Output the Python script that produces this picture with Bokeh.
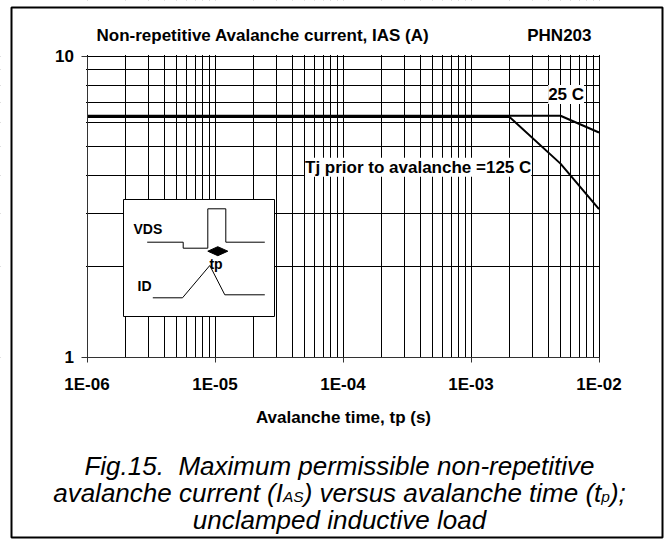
from bokeh.plotting import figure
from bokeh.models import (Range1d, LinearScale, FixedTicker, CustomJSTickFormatter,
                          Label, BoxAnnotation)
from bokeh.embed import file_html
from bokeh.resources import INLINE

# ---------------- data ----------------
tp_125 = [1e-6, 2e-3, 5e-3, 1e-2]
ias_125 = [6.27, 6.27, 4.39, 3.10]
tp_25 = [1e-6, 5e-3, 1e-2]
ias_25 = [6.33, 6.33, 5.57]

x_major = [1e-6, 1e-5, 1e-4, 1e-3, 1e-2]
x_minor = [m * d for d in [1e-6, 1e-5, 1e-4, 1e-3] for m in range(2, 10)]
y_major = [1, 10]
y_minor = [2, 3, 4, 5, 6, 7, 8, 9]

title_text = "Non-repetitive Avalanche current, IAS (A)"
part_text = "PHN203"
x_label = "Avalanche time, tp (s)"
label_125 = "Tj prior to avalanche =125 C"
label_125_pos = (5.05e-5, 4.27)
label_25 = "25 C"
label_25_pos = (7.64e-3, 7.45)

# inset schematic, in canvas pixels (x right, y down)
inset_box = dict(left=[123], right=[274], top=[199], bottom=[316])
vds_x = [146.7, 182.7, 182.7, 207.3, 207.3, 225.3, 225.3, 264.3]
vds_y = [241.7, 241.7, 247.7, 247.7, 208.3, 208.3, 241.7, 241.7]
id_x = [152.3, 182, 209.3, 224.3, 264.3]
id_y = [297.3, 297.3, 265, 294.3, 294.3]
diamond_x = [207.3, 217.3, 227.3, 217.3]
diamond_y = [250.7, 246.2, 250.7, 255.2]
inset_texts = [("VDS", 133, 228.3, "left"), ("ID", 137, 285, "left"), ("tp", 215.5, 263.5, "center")]

caption_1 = "Fig.15.\u00a0 Maximum permissible non-repetitive"
caption_2 = ["avalanche current (I", "AS", ") versus avalanche time (t", "p", ");"]
caption_3 = "unclamped inductive load"

FONT = "Liberation Sans"

# ---------------- layout constants (canvas pixels) ----------------
W, H = 667, 540
PX0, PX1 = 86.5, 598.5      # x = 1E-06 .. 1E-02
PY0, PY1 = 55.5, 356.5      # y = 10 .. 1
DEC_X = (PX1 - PX0) / (len(x_major) - 1)
DEC_Y = (PY1 - PY0) / (len(y_major) - 1)
x_start = x_major[0] * 10 ** (-PX0 / DEC_X)
x_end = x_major[-1] * 10 ** ((W - PX1) / DEC_X)
y_start = y_major[0] * 10 ** (-(H - PY1) / DEC_Y)
y_end = y_major[-1] * 10 ** (PY0 / DEC_Y)


def sy(y):
    return H - y


p = figure(width=W, height=H, x_axis_type="log", y_axis_type="log",
           x_range=Range1d(x_start, x_end), y_range=Range1d(y_start, y_end),
           output_backend="svg", toolbar_location=None, tools="", title=None,
           min_border_left=0, min_border_right=0, min_border_top=0, min_border_bottom=0)
p.background_fill_color = "white"
p.border_fill_color = "white"
p.outline_line_color = None

xt = FixedTicker(ticks=x_major, minor_ticks=x_minor)
yt = FixedTicker(ticks=y_major, minor_ticks=y_minor)
p.xaxis.ticker = xt
p.yaxis.ticker = yt
p.xgrid.ticker = xt
p.ygrid.ticker = yt
for g in (p.xgrid, p.ygrid):
    g.grid_line_color = "black"
    g.grid_line_width = 1
    g.grid_line_alpha = 1
    g.minor_grid_line_color = "black"
    g.minor_grid_line_width = 1

p.xaxis.fixed_location = y_major[0]
p.yaxis.fixed_location = x_major[0]
p.xaxis.bounds = (x_major[0], x_major[-1])
p.yaxis.bounds = (y_major[0], y_major[-1])

p.xaxis.formatter = CustomJSTickFormatter(code="""
const e = Math.round(Math.log10(tick));
const s = e < 0 ? "-" : "+";
return "1E" + s + String(Math.abs(e)).padStart(2, "0");
""")
p.yaxis.formatter = CustomJSTickFormatter(code="return tick.toFixed(0);")

for ax in (p.xaxis[0], p.yaxis[0]):
    ax.axis_line_color = "#333333"
    ax.major_tick_line_color = "#333333"
    ax.major_tick_in = 0
    ax.minor_tick_line_color = None
    ax.major_label_text_font = FONT
    ax.major_label_text_font_style = "bold"
    ax.major_label_text_font_size = "17px"
    ax.major_label_text_color = "black"
p.xaxis.major_tick_out = 5
p.yaxis.major_tick_out = 6
p.xaxis.major_label_standoff = 13
p.yaxis.major_label_standoff = 7
p.xaxis.axis_label = x_label
p.xaxis.axis_label_text_font = FONT
p.xaxis.axis_label_text_font_style = "bold"
p.xaxis.axis_label_text_font_size = "17px"
p.xaxis.axis_label_text_color = "black"
p.xaxis.axis_label_standoff = 10

# pixel-space ranges for the schematic and the white masks around the chart area
p.extra_x_ranges = {"px": Range1d(0, W)}
p.extra_y_ranges = {"px": Range1d(H, 0)}
p.extra_x_scales = {"px": LinearScale()}
p.extra_y_scales = {"px": LinearScale()}
pxr = dict(x_range_name="px", y_range_name="px")

M = 20
p.quad(left=[-M, -M, -M, PX1 + 1], right=[W + M, W + M, PX0 - 1, W + M],
       top=[-M, PY1 + 1, -M, -M], bottom=[PY0 - 1, H + M, H + M, H + M],
       fill_color="white", line_color=None, **pxr)

# curves
p.line(tp_25, ias_25, line_color="black", line_width=2)
p.line(tp_125, ias_125, line_color="black", line_width=2)

# curve labels
bold = dict(text_font=FONT, text_font_style="bold", text_font_size="17px", text_color="black",
            background_fill_color="white", text_baseline="middle")
p.add_layout(Label(x=label_125_pos[0], y=label_125_pos[1], text=label_125, text_align="left", **bold))
p.add_layout(Label(x=label_25_pos[0], y=label_25_pos[1], text=label_25, text_align="right", **bold))

# inset
p.quad(fill_color="white", line_color="black", line_width=1, **inset_box, **pxr)
p.line(vds_x, vds_y, line_color="black", line_width=1, **pxr)
p.line(id_x, id_y, line_color="black", line_width=1, **pxr)
p.patch(diamond_x, diamond_y, fill_color="black", line_color="black", line_width=1, **pxr)
for t, x, y, al in inset_texts:
    p.add_layout(Label(x=x, y=sy(y), x_units="screen", y_units="screen", text=t,
                       text_font=FONT, text_font_style="bold", text_font_size="14px",
                       text_align=al, text_baseline="middle", text_color="black"))

# title texts
p.add_layout(Label(x=96, y=sy(35), x_units="screen", y_units="screen", text=title_text,
                   text_font=FONT, text_font_style="bold", text_font_size="17px",
                   text_align="left", text_baseline="middle", text_color="black"))
p.add_layout(Label(x=591, y=sy(35), x_units="screen", y_units="screen", text=part_text,
                   text_font=FONT, text_font_style="bold", text_font_size="17px",
                   text_align="right", text_baseline="middle", text_color="black"))

# caption
CF, CS = 26, 15.5
CX = 339
BASE = [465, 492, 519]
ADV = {' ': 278, 'a': 556, 'v': 500, 'l': 222, 'n': 556, 'c': 500, 'h': 556, 'e': 556,
       'u': 556, 'r': 333, 't': 278, '(': 333, ')': 333, 'I': 278, 'A': 667, 'S': 667,
       's': 500, 'i': 222, 'm': 833, 'p': 556, ';': 278}


def tw(s, size):
    return sum(ADV[c] for c in s) / 1000.0 * size


cap = dict(x_units="screen", y_units="screen", text_font=FONT, text_font_style="italic",
           text_baseline="alphabetic", text_color="black")
p.add_layout(Label(x=CX, y=sy(BASE[0]), text=caption_1, text_align="center",
                   text_font_size=f"{CF}px", **cap))
p.add_layout(Label(x=CX, y=sy(BASE[2]), text=caption_3, text_align="center",
                   text_font_size=f"{CF}px", **cap))
sizes = [CF, CS, CF, CS, CF]
drops = [0, 4, 0, 4, 0]
total = sum(tw(s, z) for s, z in zip(caption_2, sizes))
x0 = CX - total / 2
for s, z, d in zip(caption_2, sizes, drops):
    p.add_layout(Label(x=x0, y=sy(BASE[1] + d), text=s, text_align="left",
                       text_font_size=f"{z}px", **cap))
    x0 += tw(s, z)

# outer frame
p.add_layout(BoxAnnotation(left=11, right=662, top=sy(7), bottom=sy(537),
                           left_units="screen", right_units="screen",
                           top_units="screen", bottom_units="screen",
                           fill_color=None, fill_alpha=0, line_color="black",
                           line_alpha=1, line_width=2))

open("out.html", "w").write(file_html(p, INLINE))
